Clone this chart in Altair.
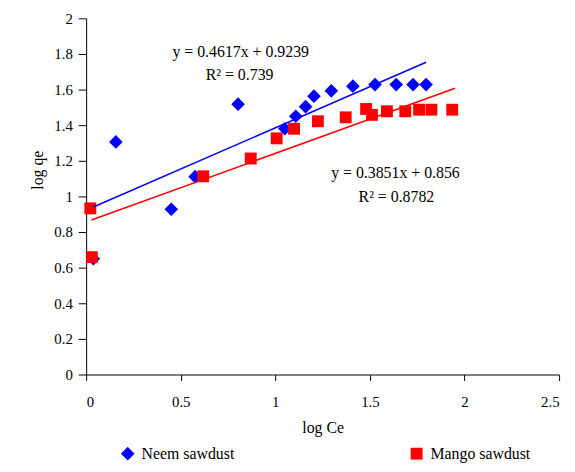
import altair as alt
import pandas as pd

# ---- data ----
series = ["Neem sawdust", "Mango sawdust"]
colors = ["#0000FF", "#FF0000"]
shapes = ["diamond", "square"]
marker_sizes = [190, 144]

neem_x = [0.038, 0.157, 0.45, 0.576, 0.803, 1.05, 1.108, 1.16, 1.204, 1.296, 1.41, 1.527, 1.639, 1.728, 1.797]
neem_y = [0.65, 1.306, 0.928, 1.111, 1.518, 1.38, 1.45, 1.504, 1.563, 1.593, 1.619, 1.628, 1.628, 1.628, 1.628]

mango_x = [0.022, 0.03, 0.619, 0.87, 1.007, 1.099, 1.225, 1.372, 1.48, 1.511, 1.59, 1.687, 1.76, 1.825, 1.935]
mango_y = [0.933, 0.659, 1.113, 1.213, 1.326, 1.38, 1.422, 1.444, 1.491, 1.458, 1.478, 1.478, 1.487, 1.487, 1.487]

# trendline end points
neem_fit_x = [0.038, 1.797]
neem_fit_y = [0.941, 1.753]
mango_fit_x = [0.028, 1.95]
mango_fit_y = [0.867, 1.607]

eq_labels = ["y = 0.4617x + 0.9239", "R² = 0.739", "y = 0.3851x + 0.856", "R² = 0.8782"]
eq_x = [0.817, 0.811, 1.635, 1.64]
eq_y = [1.811, 1.683, 1.133, 0.994]

x_ticks = [0, 0.5, 1, 1.5, 2, 2.5]
y_ticks = [0, 0.2, 0.4, 0.6, 0.8, 1, 1.2, 1.4, 1.6, 1.8, 2]

# ---- tables ----
pts = pd.concat([
    pd.DataFrame({"x": neem_x, "y": neem_y, "series": series[0]}),
    pd.DataFrame({"x": mango_x, "y": mango_y, "series": series[1]}),
], ignore_index=True)

fits = pd.concat([
    pd.DataFrame({"x": neem_fit_x, "y": neem_fit_y, "series": series[0]}),
    pd.DataFrame({"x": mango_fit_x, "y": mango_fit_y, "series": series[1]}),
], ignore_index=True)

eqs = pd.DataFrame({"x": eq_x, "y": eq_y, "label": eq_labels})

FONT = "Liberation Serif"

xscale = alt.Scale(domain=[0, 2.5], nice=False, zero=False)
yscale = alt.Scale(domain=[0, 2], nice=False, zero=False)
color_scale = alt.Scale(domain=series, range=colors)

x_axis = alt.Axis(values=x_ticks, format="~g", title="log Ce", grid=False,
                  tickSize=6, labelPadding=14, titleY=46, labelOverlap=False)
y_axis = alt.Axis(values=y_ticks, format="~g", title="log qe", grid=False,
                  tickSize=8, labelPadding=6, titleX=-41, titleY=153, labelOverlap=False)

X = alt.X("x:Q", scale=xscale, axis=x_axis)
Y = alt.Y("y:Q", scale=yscale, axis=y_axis)

points = alt.Chart(pts).mark_point(filled=True, opacity=1, strokeWidth=0).encode(
    x=X,
    y=Y,
    color=alt.Color("series:N", scale=color_scale,
                    legend=alt.Legend(title=None)),
    shape=alt.Shape("series:N", scale=alt.Scale(domain=series, range=shapes),
                    legend=alt.Legend(title=None)),
    size=alt.Size("series:N", scale=alt.Scale(domain=series, range=marker_sizes), legend=None),
    order=alt.Order("series:N", sort="descending"),
)

lines = alt.Chart(fits).mark_line(strokeWidth=1.6).encode(
    x=X,
    y=Y,
    color=alt.Color("series:N", scale=color_scale, legend=None),
    detail="series:N",
)

texts = alt.Chart(eqs).mark_text(font=FONT, fontSize=16, color="black",
                                 align="center", baseline="middle").encode(
    x=X,
    y=Y,
    text="label:N",
)

chart = alt.layer(points, lines, texts).properties(
    width=478, height=360,
    autosize=alt.AutoSizeParams(type="none"),
    padding={"left": 79, "top": 8, "right": 8, "bottom": 88},
).configure_view(stroke=None).configure_axis(
    labelFont=FONT, labelFontSize=15, labelColor="black",
    titleFont=FONT, titleFontSize=16, titleColor="black", titleFontWeight="normal",
    domainColor="black", tickColor="black", domainWidth=1, tickWidth=1,
).configure_legend(
    orient="none", legendX=34, legendY=432, direction="horizontal",
    columns=2, columnPadding=176, padding=0, symbolSize=150,
    labelFont=FONT, labelFontSize=16, labelColor="black", labelOffset=6,
    symbolStrokeWidth=0,
)

chart.save("out.html", embed_options={"renderer": "svg", "actions": False})
